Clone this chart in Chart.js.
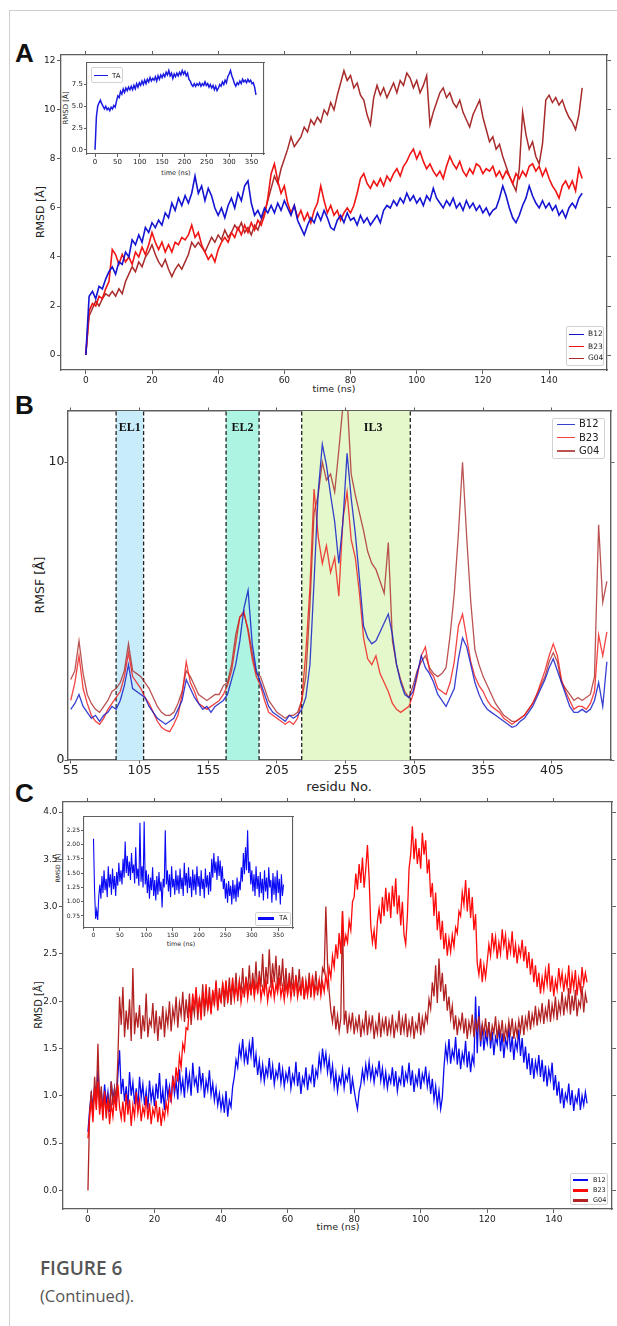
<!DOCTYPE html>
<html>
<head>
<meta charset="utf-8">
<title>Figure 6 (continued)</title>
<script src="https://cdn.jsdelivr.net/npm/chart.js@4.4.1/dist/chart.umd.min.js"></script>
<style>
    body { margin: 0; background: #fff; }
    #page { position: relative; width: 617px; height: 1326px; overflow: hidden; font-family: 'DejaVu Sans', sans-serif; color: #222; }
    .frame { position: absolute; left: 9px; top: 10px; right: 0; bottom: 0; border-left: 1px solid #cfcfcf; border-top: 1px solid #cfcfcf; }
    .t { position: absolute; white-space: nowrap; line-height: 1; }
    .rot { transform: translate(-50%, -50%) rotate(-90deg); }
    .ctr { transform: translate(-50%, -50%); }
    .letter { font-family: 'Liberation Sans', Arial, sans-serif; font-weight: bold; font-size: 26px; color: #111; }
    .cap { font-family: 'Open Sans', 'Noto Sans', sans-serif; color: #555; }
    canvas { position: absolute; }
    .legend { position: absolute; box-sizing: border-box; border: 1px solid #d2d2d2; border-radius: 2px; background: rgba(255, 255, 255, 0.85); }
</style>
</head>
<body>
<div id="page">
    <div class="frame"></div>

    <div class="t letter" style="left:15px;top:40px">A</div>
    <div class="t letter" style="left:15px;top:392px">B</div>
    <div class="t letter" style="left:15px;top:780px">C</div>

    <div class="t rot" style="left:40px;top:212px;font-size:11px">RMSD [Å]</div>
    <div class="t ctr" style="left:334px;top:389px;font-size:9.5px">time (ns)</div>
    <div class="t rot" style="left:66px;top:108px;font-size:7px">RMSD [Å]</div>
    <div class="t ctr" style="left:176px;top:173px;font-size:6.5px">time (ns)</div>

    <div class="t rot" style="left:40px;top:585px;font-size:12.5px">RMSF [Å]</div>
    <div class="t ctr" style="left:339px;top:786px;font-size:13px">residu No.</div>

    <div class="t rot" style="left:39px;top:1005px;font-size:10px">RMSD [Å]</div>
    <div class="t ctr" style="left:338px;top:1227px;font-size:9.5px">time (ns)</div>
    <div class="t rot" style="left:58px;top:868px;font-size:6px">RMSD [Å]</div>
    <div class="t ctr" style="left:181px;top:944px;font-size:6.3px">time (ns)</div>

    <div class="t cap" style="left:40px;top:1259px;font-size:19px;font-weight:600">FIGURE 6</div>
    <div class="t cap" style="left:40px;top:1288px;font-size:16.5px">(Continued).</div>
</div>

<script>
/* global Chart */

// ---- Panel A: backbone RMSD, 0-150 ns, one value per ns ----
const rmsdA_B12 = [
    0.0, 2.4, 2.6, 2.3, 2.8, 2.7, 3.1, 3.4, 3.6, 3.3,
    3.8, 3.7, 4.2, 4.0, 4.7, 4.5, 4.9, 4.6, 5.2, 5.0,
    5.4, 5.2, 5.5, 5.3, 5.8, 5.6, 6.2, 5.9, 6.4, 6.1,
    6.5, 6.2, 6.6, 7.3, 6.6, 6.9, 6.3, 6.8, 6.5, 6.0,
    5.7, 6.0, 5.6, 6.1, 6.4, 6.0, 6.6, 6.3, 6.9, 7.1,
    6.2, 5.7, 5.9, 5.6, 6.0, 5.8, 6.1, 5.8, 6.2, 5.9,
    6.3, 6.0, 5.7, 6.1, 5.5, 5.2, 4.9, 5.3, 5.6, 5.4,
    5.8, 5.5, 5.9, 5.6, 5.2, 5.1, 5.5, 5.7, 5.4, 5.8,
    5.5, 5.6, 5.3, 5.7, 5.4, 5.6, 5.3, 5.5, 5.7, 5.4,
    5.9, 6.1, 6.0, 6.3, 6.1, 6.4, 6.2, 6.6, 6.3, 6.5,
    6.2, 6.4, 6.1, 6.5, 6.3, 6.8, 6.4, 6.2, 6.0, 6.3,
    6.1, 6.4, 6.0, 6.2, 5.9, 6.3, 6.0, 6.2, 5.9, 6.1,
    5.8, 6.0, 5.7, 5.9, 6.0, 6.4, 6.9, 6.5, 6.0, 5.6,
    5.4, 5.7, 6.1, 6.4, 6.9, 6.5, 6.2, 6.0, 6.3, 6.0,
    6.2, 5.9, 6.1, 5.7, 5.9, 5.6, 6.0, 6.2, 6.0, 6.4,
    6.6
];
const rmsdA_B23 = [
    0.0, 1.8, 2.1, 2.0, 2.4, 2.3, 2.7, 3.0, 4.3, 4.1,
    3.7, 4.1, 3.8, 4.0, 3.7, 4.2, 4.0, 4.4, 4.1, 4.5,
    5.0, 4.6, 4.3, 4.6, 4.2, 4.5, 4.2, 4.6, 4.5, 4.8,
    4.7, 4.9, 5.3, 4.8, 5.0, 4.5, 4.2, 3.9, 4.1, 3.8,
    4.3, 4.6, 4.8, 4.6, 5.0, 4.8, 5.2, 4.9, 5.3, 5.0,
    5.4, 5.1, 5.5, 5.3, 5.7, 6.4, 7.4, 7.8, 7.1, 6.6,
    6.9, 6.2, 5.8, 6.1, 5.6, 5.9, 5.5, 5.8, 5.4, 5.9,
    6.2, 6.9, 6.3, 5.8, 6.1, 5.7, 5.9, 5.5, 5.8, 6.0,
    5.8, 6.1, 6.6, 7.2, 7.4, 7.0, 6.8, 7.1, 6.9, 7.2,
    6.9, 7.3, 7.1, 7.4, 7.6, 7.3, 7.7, 7.9, 8.2, 8.4,
    8.0, 8.3, 7.9, 7.6, 7.8, 7.5, 7.3, 7.5, 7.2, 7.7,
    8.1, 7.8, 7.6, 7.9, 7.5, 7.3, 7.6, 7.4, 7.8, 7.7,
    7.4, 7.6, 7.5, 7.7, 7.3, 7.5, 7.2, 7.5, 7.3, 7.0,
    7.4, 7.2, 7.5, 7.3, 7.7, 7.8, 7.5, 7.7, 7.3, 7.6,
    7.2, 6.9, 6.7, 6.4, 6.9, 7.1, 6.8, 7.1, 6.7, 7.6,
    7.2
];
const rmsdA_G04 = [
    0.0, 1.6, 1.9, 2.2, 2.0, 2.3, 2.5, 2.4, 2.6, 2.4,
    2.7, 2.5, 3.0, 3.3, 3.6, 3.4, 3.8, 3.6, 4.0, 4.2,
    4.5, 4.1, 3.8, 3.6, 3.9, 3.5, 3.2, 3.5, 3.7, 3.5,
    3.8, 4.1, 4.6, 4.4, 4.6, 4.4, 4.2, 4.5, 4.8, 4.6,
    4.9, 4.7, 5.1, 4.8, 5.0, 5.3, 5.1, 5.4, 5.0, 5.2,
    4.9, 5.3, 5.1, 5.5, 5.8, 6.3, 6.8, 7.3, 7.0, 7.6,
    8.0, 8.4, 8.9, 8.5, 8.7, 8.9, 9.3, 9.1, 9.6, 9.4,
    9.7, 9.5, 10.0, 9.8, 10.3, 10.0, 10.6, 11.1, 11.6, 11.2,
    11.4, 10.9, 11.1, 10.6, 10.4, 9.8, 9.4, 10.5, 11.0, 10.6,
    10.9, 10.5, 10.8, 11.1, 10.7, 11.2, 11.0, 11.5, 11.3, 10.9,
    11.2, 10.7, 11.0, 11.4, 9.4, 9.9, 10.3, 10.7, 10.9, 10.5,
    10.7, 10.3, 10.1, 10.4, 9.9, 9.6, 9.3, 9.8, 10.1, 10.4,
    9.7, 9.2, 8.7, 8.9, 8.4, 8.6, 8.1, 7.7, 7.3, 7.0,
    6.7, 7.6, 9.9, 9.0, 8.4, 8.7, 8.1, 7.8, 8.6, 10.4,
    10.6, 10.3, 10.5, 10.2, 10.4, 10.0, 9.7, 9.5, 9.2, 9.8,
    10.9
];
// inset A: TA, 0-360 ns, every 3 ns
const rmsdA_TA = [
    0.0, 3.8, 5.0, 5.4, 5.7, 5.3, 5.0, 4.7, 5.0, 4.6,
    4.8, 4.5, 4.9, 4.7, 5.1, 4.9, 5.6, 6.2, 6.0, 6.7,
    6.4, 7.0, 6.6, 7.1, 6.8, 7.2, 6.9, 7.3, 6.9, 7.4,
    7.0, 7.6, 7.2, 7.7, 7.4, 7.9, 7.5, 8.0, 7.6, 8.1,
    7.8, 8.3, 7.9, 8.2, 8.0, 8.4, 7.9, 8.5, 8.1, 8.6,
    8.3, 8.7, 8.4, 8.9, 8.6, 9.1, 8.5, 8.8, 8.2, 8.7,
    8.4, 8.8, 8.5, 8.9, 8.6, 9.1, 8.7, 9.0, 8.5, 8.8,
    8.1, 7.9, 7.5, 7.3, 7.6, 7.3, 7.6, 7.4, 7.7, 7.3,
    7.6, 7.4, 7.8, 7.4, 7.6, 7.2, 7.5, 7.1, 7.4, 6.9,
    7.3, 6.8, 7.1, 7.5, 7.3, 7.8, 7.5, 8.0, 7.7, 8.4,
    8.7, 9.1, 8.5, 8.1, 7.6, 7.3, 7.7, 7.5, 7.9, 7.6,
    8.1, 7.8, 8.0, 7.7, 8.1, 7.8, 8.0, 7.6, 7.7, 7.2,
    6.3
];

// ---- Panel B: per-residue RMSF, residues 55-445 every 3 ----
const rmsfStart = 55;
const rmsfStep = 3;
const rmsf_B12 = [
    1.7, 1.9, 2.2, 1.8, 1.6, 1.4, 1.5, 1.3, 1.5, 1.6,
    1.8, 1.7, 2.0, 2.5, 3.2, 2.4, 2.3, 2.2, 2.1, 1.8,
    1.6, 1.4, 1.3, 1.2, 1.3, 1.4, 1.7, 2.0, 2.7, 2.4,
    2.1, 1.9, 1.7, 1.8, 1.6, 1.8, 1.9, 2.0, 2.2, 2.7,
    3.2, 4.0, 5.1, 5.7, 3.9, 3.0, 2.6, 2.2, 1.8, 1.6,
    1.5, 1.4, 1.3, 1.5, 1.4, 1.5, 1.7, 2.1, 3.2, 6.0,
    9.0, 10.6, 9.9, 8.9, 8.0, 6.6, 8.0, 10.3, 8.8, 7.6,
    6.1, 4.5, 4.1, 3.9, 4.0, 4.3, 4.6, 4.9, 4.2, 3.2,
    2.6, 2.2, 2.1, 2.3, 2.9, 3.5, 3.1, 2.9, 2.6, 2.2,
    2.0, 1.8, 2.1, 2.4, 3.4, 4.1, 3.8, 3.2, 2.6, 2.2,
    1.9, 1.7, 1.6, 1.5, 1.4, 1.3, 1.2, 1.1, 1.15, 1.3,
    1.4, 1.6, 1.8, 2.1, 2.4, 2.7, 3.1, 3.4, 3.0, 2.6,
    2.2, 1.8, 1.6, 1.6, 1.7, 1.6, 1.7, 2.0, 2.6, 1.8,
    3.3
];
const rmsf_B23 = [
    2.0, 2.6, 3.5, 2.4, 1.9, 1.5, 1.3, 1.2, 1.4, 1.7,
    1.9, 2.1, 2.3, 2.8, 3.6, 2.8, 2.6, 2.4, 2.1, 1.9,
    1.6, 1.3, 1.1, 1.0, 0.95, 1.2, 1.5, 2.2, 3.3, 2.6,
    2.3, 1.9, 1.8, 1.7, 1.8, 1.9, 2.0, 2.2, 2.5, 3.0,
    3.9, 4.8, 5.0, 4.3, 3.4, 2.8, 2.5, 2.0, 1.6, 1.5,
    1.4, 1.3, 1.2, 1.3, 1.2, 1.4, 2.0, 3.6, 5.8, 9.1,
    7.5, 6.6, 7.2, 6.3, 6.8, 5.5, 8.1, 9.0, 7.4, 6.8,
    5.6, 4.1, 3.4, 3.2, 3.5, 2.9, 2.6, 2.3, 1.9, 1.7,
    1.6, 1.7, 1.8, 2.2, 2.8, 3.5, 3.8, 3.0, 2.8, 2.4,
    2.3, 2.2, 2.6, 3.3, 4.5, 4.9, 4.1, 3.3, 2.8, 2.5,
    2.3, 2.0, 1.8, 1.7, 1.6, 1.4, 1.3, 1.2, 1.3, 1.4,
    1.5, 1.7, 1.9, 2.2, 2.6, 3.0, 3.5, 3.9, 3.5, 2.7,
    2.3, 2.0, 1.7, 1.8, 1.8, 1.7, 1.9, 2.3, 4.2, 3.5,
    4.3
];
const rmsf_G04 = [
    2.7, 3.0, 4.0, 2.9, 2.2, 1.9, 1.7, 1.6, 1.8, 2.0,
    2.3, 2.4, 2.6, 3.0, 3.9, 3.0, 2.9, 2.8, 2.6, 2.4,
    2.1, 1.8, 1.6, 1.5, 1.5, 1.6, 1.9, 2.3, 3.0, 2.8,
    2.5, 2.2, 2.1, 2.0, 2.1, 2.2, 2.2, 2.5, 2.6, 3.2,
    4.2, 4.8, 4.9, 4.4, 3.6, 2.9, 2.8, 2.4, 2.0, 1.8,
    1.6, 1.5, 1.4, 1.5, 1.5, 1.6, 2.0, 2.8, 5.2, 8.3,
    8.9, 10.0, 9.4, 9.6, 9.0, 10.4, 11.9, 12.2, 9.6, 8.9,
    8.3, 7.7, 7.0, 6.6, 6.4, 6.0, 5.6, 7.3, 4.0, 3.2,
    2.7, 2.3, 2.1, 2.5, 3.0, 3.3, 3.5, 3.1, 2.9, 2.8,
    2.9, 3.1, 4.2, 5.6, 7.6, 10.0, 7.5, 5.3, 3.7, 3.2,
    2.8, 2.5, 2.2, 1.9, 1.7, 1.5, 1.4, 1.3, 1.3, 1.4,
    1.5, 1.7, 1.9, 2.2, 2.5, 2.8, 3.3, 3.6, 3.3, 2.6,
    2.4, 2.2, 2.0, 2.1, 2.0, 2.1, 2.2, 2.8, 7.9, 5.3,
    6.0
];
const loopNames = ['EL1', 'EL2', 'IL3'];
const loopStart = [88, 168, 223];
const loopEnd = [108, 192, 302];
const loopLabelAt = [98, 180, 275];
const loopFill = ['#c8ecfa', '#aef4e2', '#e5f8cc'];

// ---- Panel C: RMSD, 0-150 ns, every 0.5 ns ----
const rmsdC_B12 = [
    0.62, 0.85, 1.02, 0.88, 1.10, 0.93, 1.28, 0.97, 1.05, 0.86, 1.12, 0.92, 1.04, 0.83, 1.15, 0.95, 1.08, 0.90, 1.22, 1.48,
    1.02, 1.18, 0.94, 1.10, 0.88, 1.25, 1.00, 1.14, 0.91, 1.08, 0.87, 1.20, 0.98, 1.12, 0.90, 1.05, 0.86, 1.16, 0.95, 1.07,
    0.89, 1.13, 0.97, 1.24, 0.92, 1.06, 0.85, 1.18, 0.99, 1.10, 0.93, 1.21, 1.02, 1.15, 0.96, 1.28, 1.05, 1.17, 0.98, 1.30,
    1.08, 1.22, 1.00, 1.35, 1.12, 1.19, 1.03, 1.31, 1.10, 1.24, 0.98, 1.16, 1.06, 1.27, 1.01, 1.13, 0.95, 1.08, 0.90, 1.02,
    0.86, 0.98, 0.82, 1.05, 0.78, 0.95, 0.88, 1.10, 1.20, 1.38, 1.30, 1.52, 1.41, 1.60, 1.36, 1.48, 1.33, 1.55, 1.42, 1.62,
    1.30, 1.44, 1.22, 1.37, 1.18, 1.33, 1.15, 1.29, 1.21, 1.40, 1.17, 1.32, 1.12, 1.26, 1.19, 1.35, 1.14, 1.28, 1.10, 1.24,
    1.16, 1.31, 1.08, 1.22, 1.14, 1.36, 1.10, 1.25, 1.02, 1.19, 1.12, 1.30, 1.06, 1.21, 1.15, 1.33, 1.09, 1.27, 1.20, 1.42,
    1.28, 1.50, 1.33, 1.45, 1.25, 1.39, 1.18, 1.32, 1.10, 1.24, 1.05, 1.20, 1.13, 1.28, 1.08, 1.22, 1.16, 1.30, 1.02, 1.18,
    1.06, 0.95, 0.86, 1.04, 1.12, 1.27, 1.15, 1.33, 1.20, 1.36, 1.18, 1.30, 1.14, 1.28, 1.22, 1.37, 1.16, 1.29, 1.11, 1.25,
    1.08, 1.21, 1.14, 1.30, 1.10, 1.26, 1.05, 1.19, 1.13, 1.32, 1.09, 1.24, 1.16, 1.35, 1.11, 1.27, 1.04, 1.20, 1.12, 1.29,
    1.07, 1.23, 1.15, 1.31, 1.10, 1.22, 1.02, 1.18, 0.96, 1.10, 0.90, 1.05, 0.86, 0.98, 1.30, 1.52, 1.38, 1.60, 1.34, 1.48,
    1.40, 1.62, 1.33, 1.50, 1.28, 1.45, 1.36, 1.58, 1.30, 1.47, 1.25, 1.42, 1.34, 2.05, 1.45, 1.95, 1.52, 1.75, 1.48, 1.66,
    1.56, 1.78, 1.50, 1.68, 1.43, 1.62, 1.55, 1.74, 1.47, 1.66, 1.40, 1.60, 1.52, 1.72, 1.46, 1.63, 1.38, 1.58, 1.49, 1.70,
    1.42, 1.61, 1.35, 1.52, 1.28, 1.45, 1.22, 1.40, 1.18, 1.36, 1.25, 1.43, 1.20, 1.38, 1.15, 1.32, 1.10, 1.28, 1.17, 1.35,
    1.06, 1.22, 1.00, 1.15, 0.92, 1.08, 0.87, 1.02, 0.95, 1.13, 0.90, 1.06, 0.84, 0.99, 0.93, 1.08, 0.85, 1.00, 0.90, 1.04,
    0.92
];
const rmsdC_B23 = [
    0.55, 0.78, 0.95, 0.72, 1.08, 0.85, 1.15, 0.80, 0.98, 0.74, 1.05, 0.82, 0.96, 0.70, 0.92, 0.78, 1.00, 0.84, 1.12, 0.88,
    0.76, 0.94, 0.72, 1.02, 0.80, 0.96, 0.68, 0.90, 0.78, 1.04, 0.82, 0.95, 0.73, 0.88, 0.80, 1.00, 0.75, 0.92, 0.70, 0.86,
    0.79, 0.95, 0.72, 0.88, 0.68, 0.84, 0.76, 0.93, 0.82, 1.05, 0.95, 1.18, 1.08, 1.30, 1.15, 1.42, 1.30, 1.55, 1.48, 1.72,
    1.70, 1.95, 1.85, 2.08, 1.92, 2.15, 1.88, 2.02, 1.80, 2.10, 1.94, 2.18, 1.90, 2.05, 1.86, 2.12, 1.98, 2.20, 1.92, 2.08,
    2.00, 2.18, 2.05, 2.22, 1.98, 2.14, 2.08, 2.25, 2.02, 2.16, 2.06, 2.20, 1.99, 2.13, 2.07, 2.24, 2.03, 2.17, 2.09, 2.21,
    2.04, 2.19, 2.10, 2.26, 2.02, 2.15, 2.08, 2.23, 2.00, 2.14, 2.06, 2.21, 2.03, 2.18, 2.09, 2.25, 2.05, 2.16, 2.01, 2.19,
    2.07, 2.22, 2.03, 2.17, 2.10, 2.26, 2.04, 2.15, 2.08, 2.24, 2.02, 2.18, 2.06, 2.21, 2.09, 2.27, 2.05, 2.16, 2.11, 2.23,
    2.06, 2.20, 2.10, 2.28, 2.15, 2.35, 2.25, 2.48, 2.36, 2.60, 2.45, 2.72, 2.50, 2.95, 2.58, 2.70, 2.62, 2.85, 2.75, 3.05,
    3.10, 3.35, 3.18, 3.45, 3.25, 3.52, 3.20, 3.40, 3.65, 3.30, 2.80, 2.62, 2.75, 2.55, 2.85, 2.98, 2.82, 3.10, 2.90, 3.20,
    2.95, 3.15, 2.88, 3.22, 3.00, 3.30, 2.92, 3.12, 2.80, 3.05, 2.70, 2.60, 2.90, 3.40, 3.55, 3.85, 3.50, 3.72, 3.45, 3.62,
    3.40, 3.78, 3.55, 3.70, 3.35, 3.50, 3.10, 3.25, 2.90, 3.15, 2.75, 2.95, 2.65, 2.85, 2.55, 2.72, 2.48, 2.66, 2.52, 2.70,
    2.58, 2.78, 2.72, 2.95, 2.90, 3.15, 3.02, 3.28, 2.95, 3.20, 2.88, 3.10, 2.75, 2.92, 2.40, 2.28, 2.45, 2.20, 2.38, 2.25,
    2.42, 2.60, 2.48, 2.72, 2.55, 2.68, 2.45, 2.62, 2.50, 2.76, 2.58, 2.70, 2.44, 2.63, 2.52, 2.74, 2.46, 2.60, 2.40, 2.57,
    2.48, 2.65, 2.42, 2.58, 2.35, 2.52, 2.28, 2.45, 2.20, 2.38, 2.15, 2.30, 2.08, 2.25, 2.12, 2.32, 2.18, 2.40, 2.10, 2.27,
    2.05, 2.22, 2.12, 2.35, 2.18, 2.30, 2.10, 2.26, 2.15, 2.38, 2.08, 2.28, 2.14, 2.33, 2.06, 2.24, 2.12, 2.36, 2.18, 2.30,
    2.20
];
const rmsdC_G04 = [
    0.00, 0.82, 1.05, 0.78, 1.20, 0.92, 1.55, 0.88, 1.10, 0.80, 1.02, 0.76, 0.98, 0.85, 1.15, 0.90, 1.08, 0.95, 1.40, 2.05,
    1.75, 2.15, 1.62, 1.90, 1.70, 2.02, 1.58, 2.35, 1.65, 1.88, 1.72, 1.96, 1.60, 1.85, 1.68, 2.08, 1.62, 1.80, 1.74, 1.98,
    1.66, 1.90, 1.58, 1.84, 1.70, 1.95, 1.62, 1.88, 1.75, 2.00, 1.68, 1.92, 1.80, 2.05, 1.72, 1.98, 1.85, 2.10, 1.78, 2.02,
    1.82, 2.08, 1.75, 1.98, 1.86, 2.12, 1.80, 2.04, 1.90, 2.18, 1.84, 2.06, 1.92, 2.15, 1.88, 2.10, 1.95, 2.22, 1.90, 2.14,
    1.98, 2.20, 1.94, 2.16, 2.02, 2.25, 1.96, 2.18, 2.05, 2.30, 2.00, 2.22, 2.08, 2.35, 2.04, 2.26, 2.10, 2.38, 2.06, 2.30,
    2.12, 2.42, 2.08, 2.32, 2.15, 2.50, 2.10, 2.36, 2.18, 2.55, 2.14, 2.40, 2.20, 2.48, 2.12, 2.38, 2.16, 2.45, 2.10, 2.35,
    2.08, 2.30, 2.12, 2.36, 2.05, 2.28, 2.10, 2.34, 2.06, 2.26, 2.02, 2.22, 2.08, 2.30, 2.04, 2.24, 2.10, 2.32, 2.06, 2.20,
    2.12, 2.35, 2.30, 3.00, 2.40, 2.10, 1.90, 1.78, 1.95, 1.70, 1.85, 1.68, 1.82, 2.95, 1.75, 1.90, 1.66, 1.84, 1.72, 1.88,
    1.65, 1.80, 1.70, 1.86, 1.62, 1.78, 1.68, 1.90, 1.64, 1.82, 1.70, 1.85, 1.60, 1.76, 1.66, 1.88, 1.62, 1.80, 1.69, 1.84,
    1.63, 1.79, 1.67, 1.86, 1.61, 1.77, 1.70, 1.90, 1.64, 1.81, 1.68, 1.87, 1.62, 1.78, 1.66, 1.84, 1.60, 1.76, 1.69, 1.88,
    1.64, 1.82, 1.70, 1.86, 1.78, 2.02, 1.92, 2.20, 2.05, 2.38, 1.98, 2.45, 2.10, 2.30, 2.00, 2.18, 1.90, 2.05, 1.82, 1.95,
    1.70, 1.85, 1.64, 1.80, 1.72, 1.88, 1.66, 1.82, 1.60, 1.78, 1.68, 1.86, 1.62, 1.79, 1.70, 1.84, 1.58, 1.76, 1.65, 1.82,
    1.62, 1.78, 1.58, 1.74, 1.66, 1.84, 1.60, 1.76, 1.64, 1.80, 1.57, 1.73, 1.62, 1.79, 1.66, 1.82, 1.60, 1.75, 1.63, 1.80,
    1.68, 1.85, 1.64, 1.82, 1.72, 1.90, 1.70, 1.86, 1.76, 1.95, 1.74, 1.90, 1.80, 1.98, 1.76, 1.92, 1.82, 2.02, 1.78, 1.96,
    1.84, 2.05, 1.80, 1.98, 1.88, 2.10, 1.85, 2.02, 1.92, 2.14, 1.86, 2.06, 1.90, 2.12, 1.84, 2.00, 1.94, 2.16, 1.88, 2.08,
    1.98
];
// inset C: TA, 0-360 ns, every 2 ns
const rmsdC_TA = [
    2.10, 1.20, 0.70, 0.85, 0.68, 1.10, 1.30, 1.05, 1.45, 1.15, 1.55, 1.20, 1.40, 1.08, 1.62, 1.25, 1.48, 1.12, 1.58, 1.22,
    1.45, 1.10, 1.52, 1.28, 1.68, 1.35, 1.55, 1.30, 1.75, 1.42, 2.05, 1.50, 1.80, 1.45, 1.70, 1.38, 1.85, 1.50, 1.65, 1.32,
    1.95, 1.40, 1.58, 1.28, 2.38, 1.35, 1.62, 1.25, 2.40, 1.30, 1.55, 1.15, 1.48, 1.05, 1.42, 1.20, 1.60, 1.10, 1.38, 1.02,
    1.45, 1.12, 1.52, 1.18, 1.35, 0.90, 1.40, 1.25, 2.25, 1.30, 1.55, 1.18, 1.48, 1.08, 1.62, 1.25, 1.40, 1.12, 1.55, 1.20,
    1.46, 1.14, 1.58, 1.22, 1.42, 1.10, 1.68, 1.28, 1.50, 1.15, 1.60, 1.24, 1.44, 1.08, 1.56, 1.20, 1.48, 1.12, 1.62, 1.26,
    1.45, 1.10, 1.55, 1.22, 1.40, 1.06, 1.58, 1.25, 1.46, 1.12, 1.52, 1.18, 1.75, 1.42, 1.85, 1.50, 1.70, 1.38, 1.80, 1.45,
    1.72, 1.35, 1.62, 1.22, 1.40, 1.05, 1.32, 0.98, 1.36, 1.10, 1.28, 0.95, 1.38, 1.05, 1.30, 1.00, 1.42, 1.08, 1.35, 1.20,
    1.60, 1.35, 1.85, 1.48, 1.95, 1.55, 2.25, 1.50, 1.70, 1.30, 1.55, 1.18, 1.48, 1.10, 1.62, 1.22, 1.45, 1.08, 1.52, 1.15,
    1.40, 1.02, 1.55, 1.18, 1.42, 1.05, 1.60, 1.25, 1.38, 0.98, 1.50, 1.12, 1.44, 1.02, 1.55, 1.15, 1.40, 0.95, 1.48, 1.10,
    1.30
];

// ---- tick positions ----
const aXTicks = [0, 20, 40, 60, 80, 100, 120, 140];
const aYTicks = [0, 2, 4, 6, 8, 10, 12];
const aInXTicks = [0, 50, 100, 150, 200, 250, 300, 350];
const aInYTicks = [0, 2.5, 5, 7.5];
const bXTicks = [55, 105, 155, 205, 255, 305, 355, 405];
const bYTicks = [0, 10];
const cXTicks = [0, 20, 40, 60, 80, 100, 120, 140];
const cYTicks = [0, 0.5, 1, 1.5, 2, 2.5, 3, 3.5, 4];
const cInXTicks = [0, 50, 100, 150, 200, 250, 300, 350];
const cInYTicks = [0.75, 1, 1.25, 1.5, 1.75, 2, 2.25];

const seriesNames = ['B12', 'B23', 'G04'];
const colorsA = ['#1414d2', '#f01414', '#a82a2a'];
const colorsB = ['rgba(20, 30, 200, 0.85)', 'rgba(240, 20, 20, 0.8)', 'rgba(170, 40, 40, 0.8)'];
const colorsC = ['#0a0aee', '#ff0a0a', '#b22222'];
const rmsfTop = 11.72;
const loopLabelY = 11.15;

const page = document.getElementById('page');
Chart.defaults.font.family = 'DejaVu Sans';

function points(values, start, step) {
    return values.map((v, i) => ({ x: start + i * step, y: v }));
}

function line(data, color, width, order) {
    return { data, borderColor: color, borderWidth: width, pointRadius: 0, fill: false, tension: 0, order };
}

function frameScales(s) {
    const ink = '#5e5e5e';
    const make = (pos, range, size, shown) => {
        const horizontal = pos === 'bottom' || pos === 'top';
        const ticks = {
            display: shown, color: '#222', padding: s.pad, autoSkip: false, maxRotation: 0,
            font: { family: 'DejaVu Sans', size: s.font }
        };
        const fmt = horizontal ? s.xFmt : s.yFmt;
        if (fmt) ticks.callback = fmt;
        return {
            type: 'linear', position: pos, min: range[0], max: range[1],
            afterBuildTicks: sc => { sc.ticks = range[2].map(v => ({ value: v })); },
            afterFit: sc => { if (horizontal) sc.height = size; else sc.width = size; },
            border: { display: true, color: ink, width: s.spine },
            grid: { drawOnChartArea: false, drawTicks: shown || s.mirror, tickLength: s.tick, color: ink, lineWidth: 1 },
            ticks
        };
    };
    return {
        x: make('bottom', s.x, s.m.b, true),
        y: make('left', s.y, s.m.l, true),
        x2: make('top', s.x, s.m.t, false),
        y2: make('right', s.y, s.m.r, false)
    };
}

function makeChart(area, m, datasets, scales, plugins) {
    const canvas = document.createElement('canvas');
    const w = area[2] - area[0] + m.l + m.r;
    const h = area[3] - area[1] + m.t + m.b;
    canvas.width = w;
    canvas.height = h;
    canvas.style.left = (area[0] - m.l) + 'px';
    canvas.style.top = (area[1] - m.t) + 'px';
    canvas.style.width = w + 'px';
    canvas.style.height = h + 'px';
    page.appendChild(canvas);
    return new Chart(canvas, {
        type: 'line',
        data: { datasets },
        options: {
            responsive: false,
            animation: false,
            events: [],
            layout: { padding: 0 },
            plugins: { legend: { display: false }, tooltip: { enabled: false } },
            scales
        },
        plugins: plugins || []
    });
}

function legend(box, labels, colors, o) {
    const el = document.createElement('div');
    el.className = 'legend';
    el.style.left = box[0] + 'px';
    el.style.top = box[1] + 'px';
    el.style.width = box[2] + 'px';
    el.style.height = box[3] + 'px';
    labels.forEach((label, i) => {
        const swatch = document.createElement('div');
        swatch.style.cssText = `position:absolute;left:${o.x0}px;width:${o.x1 - o.x0}px;top:${o.rows[i] - o.lw / 2}px;height:${o.lw}px;background:${colors[i]}`;
        const text = document.createElement('div');
        text.className = 't';
        text.textContent = label;
        text.style.left = o.tx + 'px';
        text.style.top = o.rows[i] + 'px';
        text.style.fontSize = o.font + 'px';
        text.style.transform = 'translateY(-50%)';
        el.append(swatch, text);
    });
    page.appendChild(el);
}

// Panel A
const mA = { l: 40, b: 22, t: 12, r: 10 };
makeChart([61, 55, 607, 370], mA, [
    line(points(rmsdA_B12, 0, 1), colorsA[0], 1.6, 1),
    line(points(rmsdA_B23, 0, 1), colorsA[1], 1.6, 2),
    line(points(rmsdA_G04, 0, 1), colorsA[2], 1.5, 3)
], frameScales({ x: [-7.5, 157.5, aXTicks], y: [-0.61, 12.24, aYTicks], m: mA, font: 9, tick: 4, pad: 1.5, spine: 1.3, mirror: true }));

const mAi = { l: 22, b: 14, t: 8, r: 8 };
makeChart([87, 63, 264, 154], mAi, [
    line(points(rmsdA_TA, 0, 3), '#1a1ae0', 1.5, 1)
], frameScales({ x: [-18, 378, aInXTicks], y: [-0.48, 9.97, aInYTicks], m: mAi, font: 7, tick: 3, pad: 1, spine: 1.1, mirror: false,
    yFmt: v => v.toFixed(1) }));

// Panel B
const loopPlugin = {
    id: 'loopLabels',
    afterDatasetsDraw(chart) {
        const { ctx, scales } = chart;
        ctx.save();
        ctx.font = 'bold 12px "Liberation Serif"';
        ctx.fillStyle = '#111';
        ctx.textAlign = 'center';
        ctx.textBaseline = 'middle';
        loopNames.forEach((name, i) => {
            ctx.fillText(name, scales.x.getPixelForValue(loopLabelAt[i]), scales.y.getPixelForValue(loopLabelY));
        });
        ctx.restore();
    }
};
const loopSets = [];
loopNames.forEach((name, i) => {
    loopSets.push({
        data: [{ x: loopStart[i], y: rmsfTop }, { x: loopEnd[i], y: rmsfTop }],
        borderColor: 'transparent', borderWidth: 0, backgroundColor: loopFill[i],
        fill: 'origin', pointRadius: 0, order: 10
    });
    [loopStart[i], loopEnd[i]].forEach(edge => {
        loopSets.push({
            data: [{ x: edge, y: 0 }, { x: edge, y: rmsfTop }],
            borderColor: '#222', borderWidth: 1.3, borderDash: [4, 2.5], pointRadius: 0, fill: false, order: 9
        });
    });
});
const mB = { l: 40, b: 22, t: 12, r: 6 };
makeChart([68, 411, 611, 760], mB, [
    ...loopSets,
    line(points(rmsf_B12, rmsfStart, rmsfStep), colorsB[0], 1.3, 1),
    line(points(rmsf_B23, rmsfStart, rmsfStep), colorsB[1], 1.3, 2),
    line(points(rmsf_G04, rmsfStart, rmsfStep), colorsB[2], 1.3, 3)
], frameScales({ x: [53, 448, bXTicks], y: [0, rmsfTop, bYTicks], m: mB, font: 12.5, tick: 3.5, pad: 0, spine: 1.4, mirror: true }),
[loopPlugin]);

// Panel C
const mC = { l: 40, b: 20, t: 12, r: 5 };
makeChart([63, 802, 612, 1209], mC, [
    line(points(rmsdC_B12, 0, 0.5), colorsC[0], 1.3, 3),
    line(points(rmsdC_B23, 0, 0.5), colorsC[1], 1.3, 1),
    line(points(rmsdC_G04, 0, 0.5), colorsC[2], 1.3, 2)
], frameScales({ x: [-7.5, 157.5, cXTicks], y: [-0.197, 4.106, cYTicks], m: mC, font: 9, tick: 4, pad: 1.5, spine: 1.3, mirror: true,
    yFmt: v => v.toFixed(1) }));

const mCi = { l: 24, b: 14, t: 8, r: 8 };
makeChart([84, 817, 293, 928], mCi, [
    line(points(rmsdC_TA, 0, 2), '#0a0af5', 1.1, 1)
], frameScales({ x: [-18, 378, cInXTicks], y: [0.54, 2.48, cInYTicks], m: mCi, font: 6, tick: 3, pad: 1, spine: 1.1, mirror: false,
    yFmt: v => v.toFixed(2) }));

// Legends
legend([566, 326, 38, 40], seriesNames, colorsA, { x0: 2, x1: 17, tx: 21, rows: [7.3, 19.7, 31.3], lw: 1.3, font: 7.5 });
legend([91, 67, 32, 16], ['TA'], ['#1a1ae0'], { x0: 2, x1: 16, tx: 20, rows: [7.5], lw: 1.2, font: 7 });
legend([552, 418, 53, 41], seriesNames, colorsB, { x0: 4, x1: 22, tx: 26, rows: [5.3, 18.7, 32], lw: 1.5, font: 10 });
legend([570, 1173, 38, 32], seriesNames, colorsC, { x0: 1.7, x1: 17.3, tx: 22, rows: [6, 16.3, 26.3], lw: 2.5, font: 6.5 });
legend([255, 912, 36, 14], ['TA'], ['#0a0af5'], { x0: 2, x1: 18, tx: 23, rows: [5.3], lw: 2.5, font: 7 });
</script>
</body>
</html>
